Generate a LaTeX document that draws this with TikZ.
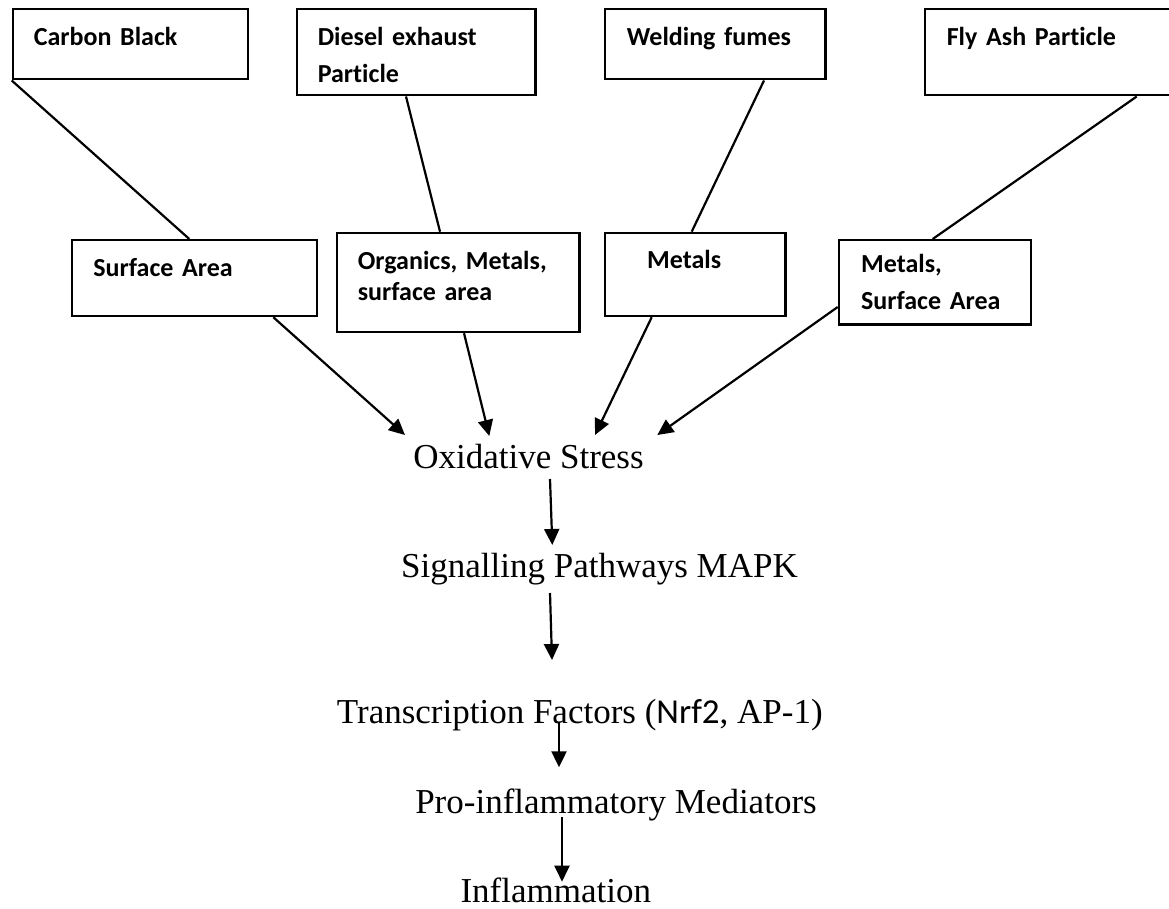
\documentclass[tikz,border=0pt]{standalone}
\usepackage{fontspec}
\setmainfont{Liberation Serif}
\newfontfamily\boxfont[Ligatures=NoCommon]{Carlito}
\usetikzlibrary{arrows.meta}
\tikzset{
  box/.style={draw, line width=2.2pt, anchor=north west, inner ysep=0pt, align=left,
    font=\boxfont\bfseries\fontsize{26}{37.7}\selectfont},
  flowtext/.style={anchor=base, inner sep=0pt, font=\fontsize{35}{40}\selectfont},
  link/.style={line width=2.2pt},
  arrow/.style={line width=2.2pt, -{Triangle[length=16pt,width=15pt]}}
}
\begin{document}
\begin{tikzpicture}[x=1pt,y=-1pt]
\clip (0,0) rectangle (1169,909);
\fill[white] (0,0) rectangle (1169,909);
% top boxes
\node[box, inner xsep=21pt, text width=193pt, text height=36pt, text depth=34pt] (cb) at (11.7,8.3) {Carbon Black};
\node[box, inner xsep=21pt, text width=196.6pt, text height=35.7pt, text depth=50.3pt] (de) at (295.7,8.3) {Diesel exhaust\\Particle};
\node[box, inner xsep=21.7pt, text width=176.9pt, text height=36pt, text depth=34pt] (wf) at (604,8.3) {Welding fumes};
\node[box, inner xsep=21.7pt, text width=216.6pt, text height=36pt, text depth=50pt] (fa) at (924,8.3) {Fly Ash Particle};
% property boxes
\node[box, inner xsep=21.3pt, text width=202.4pt, text height=36.7pt, text depth=39.3pt] (sa) at (71,239) {Surface Area};
\node[box, inner xsep=21pt, text width=200.6pt, text height=36.3pt, text depth=63pt,
  font=\boxfont\bfseries\fontsize{26}{31}\selectfont] (or) at (335.7,231.7) {Organics, Metals,\\surface area};
\node[box, inner xsep=42pt, text width=96.3pt, text height=36pt, text depth=47.3pt] (me) at (604,231.7) {Metals};
\node[box, inner xsep=22.3pt, text width=147.7pt, text height=32.7pt, text depth=51.6pt,
  font=\boxfont\bfseries\fontsize{26}{36.6}\selectfont] (ms) at (837.7,239) {Metals,\\Surface Area};
% flow texts
\node[flowtext] (os) at (528.5,468) {Oxidative Stress};
\node[flowtext] (sig) at (599.5,577) {Signalling Pathways MAPK};
\node[flowtext] (tf) at (579.85,723.3) {Transcription Factors ({\boxfont Nrf2}, AP-1)};
\node[flowtext] (pm) at (616,813) {Pro-inflammatory Mediators};
\node[flowtext] (inf) at (555.8,902) {Inflammation};
% links top -> property
\draw[link] (cb.south west) -- ([xshift=118.3pt]sa.north west);
\draw[link] ([xshift=110.3pt]de.south west) -- ([xshift=104.3pt]or.north west);
\draw[link] ([xshift=160pt]wf.south west) -- ([xshift=87.7pt]me.north west);
\draw[link] ([xshift=212.7pt]fa.south west) -- ([xshift=95pt]ms.north west);
% arrows to oxidative stress
\draw[arrow] ([xshift=202.3pt]sa.south west) -- ([shift={(-123.5,-33)}]os.base);
\draw[arrow] ([xshift=128.3pt]or.south west) -- ([shift={(-39.2,-32)}]os.base);
\draw[arrow] ([xshift=47.7pt]me.south west) -- ([shift={(66.5,-33)}]os.base);
\draw[arrow] ([shift={(0,68)}]ms.north west) -- ([shift={(128.8,-33)}]os.base);
% vertical chain
\draw[arrow] ([shift={(21.5,11)}]os.base) -- ([shift={(-47.2,-32)}]sig.base);
\draw[arrow] ([shift={(-49.5,16)}]sig.base) -- ([shift={(-27.85,-63.3)}]tf.base);
\draw[arrow] ([shift={(-20.85,-0.6)}]tf.base) -- ([shift={(-57,-45.7)}]pm.base);
\draw[arrow] ([shift={(-54,4)}]pm.base) -- ([shift={(6.2,-20.3)}]inf.base);
\end{tikzpicture}
\end{document}
